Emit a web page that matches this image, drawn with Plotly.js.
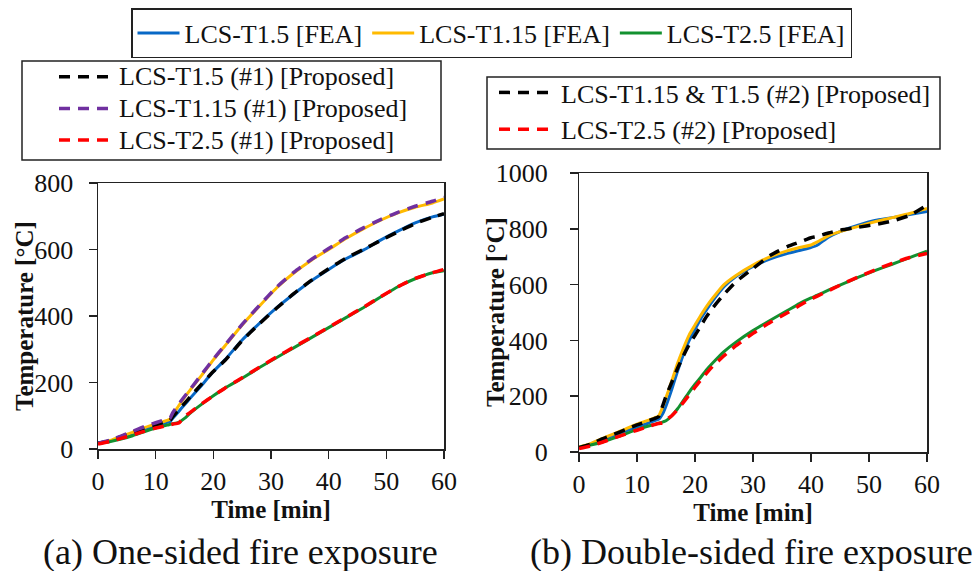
<!DOCTYPE html>
<html>
<head>
<meta charset="utf-8">
<script src="https://cdn.plot.ly/plotly-3.0.1.min.js"></script>
<style>
  html, body { margin: 0; padding: 0; background: #fff; }
  #chart { width: 975px; height: 571px; }
</style>
</head>
<body>
<div id="chart"></div>
<script>
// ---------- (a) One-sided fire exposure ----------
const timeA = [0, 2, 4, 6, 8, 10, 12, 12.5, 13, 14, 15, 16, 18, 20, 22, 25, 28, 31, 34, 37, 40, 43, 46, 49, 52, 55, 58, 60];
const feaT15A  = [17, 24, 35, 47, 60, 70, 80, 83, 93, 113, 133, 153, 192, 233, 268, 328, 378, 425, 467, 506, 540, 572, 598, 628, 655, 680, 698, 706];
const feaT115A = [17, 25, 38, 50, 64, 75, 86, 90, 105, 130, 155, 178, 222, 268, 310, 373, 430, 485, 530, 568, 600, 633, 662, 688, 710, 727, 740, 752];
const feaT25A  = [17, 22, 30, 40, 52, 63, 72, 74, 76, 80, 92, 108, 135, 160, 183, 213, 245, 275, 305, 335, 365, 395, 425, 457, 488, 512, 530, 536];
const propT15A  = [17, 25, 37, 50, 63, 73, 83, 86, 98, 118, 137, 157, 196, 233, 266, 326, 377, 424, 468, 507, 542, 574, 600, 627, 653, 678, 697, 708];
const propT115A = [17, 26, 39, 53, 67, 79, 90, 93, 110, 135, 158, 180, 225, 270, 312, 375, 432, 487, 532, 570, 603, 636, 665, 690, 712, 730, 745, 757];
const propT25A  = [15, 22, 32, 42, 53, 63, 71, 73, 75, 78, 98, 110, 136, 160, 183, 214, 246, 277, 307, 336, 366, 396, 426, 458, 488, 513, 530, 540];

// ---------- (b) Double-sided fire exposure ----------
const timeB = [0, 2, 4, 6, 8, 10, 12, 13, 13.7, 14.5, 15, 16, 17, 18, 19, 20, 21, 22, 23, 25, 27, 30, 33, 36, 38, 40, 41, 43, 45, 48, 51, 54, 57, 60];
const feaT15B  = [17, 28, 44, 60, 75, 90, 104, 112, 117, 140, 165, 225, 290, 350, 400, 440, 478, 510, 540, 592, 628, 665, 692, 712, 722, 733, 740, 770, 790, 812, 830, 840, 851, 862];
const feaT115B = [18, 30, 48, 65, 82, 100, 114, 122, 129, 165, 195, 255, 318, 372, 420, 455, 490, 522, 550, 600, 632, 670, 700, 722, 733, 742, 752, 775, 790, 808, 825, 840, 855, 873];
const feaT25B  = [17, 25, 36, 50, 65, 80, 93, 99, 103, 108, 112, 130, 155, 185, 215, 243, 268, 295, 318, 360, 393, 435, 472, 508, 532, 552, 561, 580, 598, 625, 650, 673, 697, 720];
const propT115T15B = [15, 28, 47, 63, 80, 97, 112, 120, 126, 170, 200, 250, 300, 345, 385, 418, 452, 486, 515, 565, 609, 658, 705, 737, 752, 768, 772, 785, 795, 805, 815, 828, 848, 885];
const propT25B = [12, 22, 35, 50, 64, 78, 92, 98, 102, 105, 115, 130, 152, 178, 205, 232, 258, 283, 306, 345, 380, 425, 465, 500, 525, 548, 558, 578, 598, 626, 652, 676, 697, 712];

// Tick values / labels
const xTicks = [0, 10, 20, 30, 40, 50, 60];
const yTicksA = [0, 200, 400, 600, 800];
const yTicksB = [0, 200, 400, 600, 800, 1000];

// Names / texts
const nameFEA = ['LCS-T1.5 [FEA]', 'LCS-T1.15 [FEA]', 'LCS-T2.5 [FEA]'];
const namePropA = ['LCS-T1.5 (#1) [Proposed]', 'LCS-T1.15 (#1) [Proposed]', 'LCS-T2.5 (#1) [Proposed]'];
const namePropB = ['LCS-T1.15 & T1.5 (#2) [Proposed]', 'LCS-T2.5 (#2) [Proposed]'];
const captions = ['(a) One-sided fire exposure', '(b) Double-sided fire exposure'];
const xTitle = 'Time [min]';
const yTitle = 'Temperature [°C]';

const BLUE = '#0868C6', ORANGE = '#FFBA00', GREEN = '#13912F', PURPLE = '#7030A0', RED = '#FF0000', BLACK = '#000000';
const FONT = 'Liberation Serif';
const DASH = '11px,8px';

// legend2 uses a smaller base size (tighter rows) with full-size text
function big(s) { return '<span style="font-size:26px">' + s + '</span>'; }
// right-panel y tick labels get a trailing no-break space to sit a little further from the axis
function yLabelB(v) { return String(v) + '\u00A0'; }

function solid(x, y, name, color, xa, ya, show) {
  return { type: 'scatter', mode: 'lines', x: x, y: y, name: name, xaxis: xa, yaxis: ya,
    line: { color: color, width: 3, shape: 'spline', smoothing: 0.5 },
    legend: 'legend', showlegend: show, hoverinfo: 'skip' };
}
function dashed(x, y, name, color, xa, ya, leg) {
  return { type: 'scatter', mode: 'lines', x: x, y: y, name: name, xaxis: xa, yaxis: ya,
    line: { color: color, width: 3.5, dash: DASH, shape: 'spline', smoothing: 0.5 },
    legend: leg, showlegend: true, hoverinfo: 'skip' };
}

const data = [
  solid(timeA, feaT15A, nameFEA[0], BLUE, 'x', 'y', true),
  solid(timeA, feaT115A, nameFEA[1], ORANGE, 'x', 'y', true),
  solid(timeA, feaT25A, nameFEA[2], GREEN, 'x', 'y', true),
  solid(timeB, feaT15B, nameFEA[0], BLUE, 'x2', 'y2', false),
  solid(timeB, feaT115B, nameFEA[1], ORANGE, 'x2', 'y2', false),
  solid(timeB, feaT25B, nameFEA[2], GREEN, 'x2', 'y2', false),
  dashed(timeA, propT15A, big(namePropA[0]), BLACK, 'x', 'y', 'legend2'),
  dashed(timeA, propT115A, big(namePropA[1]), PURPLE, 'x', 'y', 'legend2'),
  dashed(timeA, propT25A, big(namePropA[2]), RED, 'x', 'y', 'legend2'),
  dashed(timeB, propT115T15B, namePropB[0], BLACK, 'x2', 'y2', 'legend3'),
  dashed(timeB, propT25B, namePropB[1], RED, 'x2', 'y2', 'legend3')
];

const W = 975, H = 571;
function px(x) { return x / W; }
function py(y) { return 1 - y / H; }

const axisCommon = {
  showgrid: false, zeroline: false, showline: true, mirror: true,
  linecolor: '#222', linewidth: 1.5,
  ticks: 'outside', ticklen: 8, tickwidth: 1.5, tickcolor: '#222',
  tickfont: { family: FONT, size: 26, color: '#111' },
  fixedrange: true
};
const titleFont = { family: FONT, size: 25, color: '#111', weight: 'bold' };

const legendCommon = {
  bgcolor: 'rgba(255,255,255,0)',
  font: { family: FONT, size: 26, color: '#111' },
  xanchor: 'left', yanchor: 'top', traceorder: 'normal'
};

const boxLine = { color: '#222', width: 1.5 };

const layout = {
  width: W, height: H,
  margin: { l: 0, r: 0, t: 0, b: 0 },
  paper_bgcolor: '#fff', plot_bgcolor: '#fff',
  font: { family: FONT, color: '#111' },
  xaxis: Object.assign({}, axisCommon, {
    domain: [px(98), px(444)], anchor: 'y', range: [0, 60],
    tickvals: xTicks, ticktext: xTicks.map(String),
    title: { text: xTitle, font: titleFont, standoff: 0 }
  }),
  yaxis: Object.assign({}, axisCommon, {
    domain: [py(449), py(183)], anchor: 'x', range: [0, 800],
    tickvals: yTicksA, ticktext: yTicksA.map(String), ticklabelstandoff: 10
  }),
  xaxis2: Object.assign({}, axisCommon, {
    domain: [px(579), px(927)], anchor: 'y2', range: [0, 60],
    tickvals: xTicks, ticktext: xTicks.map(String),
    title: { text: xTitle, font: titleFont, standoff: 0 }
  }),
  yaxis2: Object.assign({}, axisCommon, {
    domain: [py(452), py(173)], anchor: 'x2', range: [0, 1000],
    tickvals: yTicksB, ticktext: yTicksB.map(yLabelB), ticklabelstandoff: 10
  }),
  legend: Object.assign({}, legendCommon, {
    orientation: 'h', x: px(131), y: py(8), itemwidth: 42,
    bordercolor: '#222', borderwidth: 1.5
  }),
  legend2: Object.assign({}, legendCommon, {
    orientation: 'v', x: px(54), y: py(56), itemwidth: 55, borderwidth: 0,
    font: { family: FONT, size: 22, color: '#111' }
  }),
  legend3: Object.assign({}, legendCommon, {
    orientation: 'v', x: px(494), y: py(69), itemwidth: 57, borderwidth: 0
  }),
  shapes: [
    { type: 'rect', xref: 'paper', yref: 'paper', x0: px(22), x1: px(441), y0: py(160), y1: py(61), line: boxLine },
    { type: 'rect', xref: 'paper', yref: 'paper', x0: px(487), x1: px(940), y0: py(149), y1: py(77), line: boxLine }
  ],
  annotations: [
    { text: yTitle, xref: 'paper', yref: 'paper', textangle: -90,
      x: px(24), y: py(316), xanchor: 'center', yanchor: 'middle', showarrow: false,
      font: titleFont },
    { text: yTitle, xref: 'paper', yref: 'paper', textangle: -90,
      x: px(496), y: py(312), xanchor: 'center', yanchor: 'middle', showarrow: false,
      font: titleFont },
    { text: captions[0], xref: 'paper', yref: 'paper',
      x: px(240), y: py(552), xanchor: 'center', yanchor: 'middle', showarrow: false,
      font: { family: FONT, size: 36, color: '#111' } },
    { text: captions[1], xref: 'paper', yref: 'paper',
      x: px(751), y: py(552), xanchor: 'center', yanchor: 'middle', showarrow: false,
      font: { family: FONT, size: 36, color: '#111' } }
  ],
  showlegend: true
};

Plotly.newPlot('chart', data, layout, { staticPlot: true, displayModeBar: false });
</script>
</body>
</html>
